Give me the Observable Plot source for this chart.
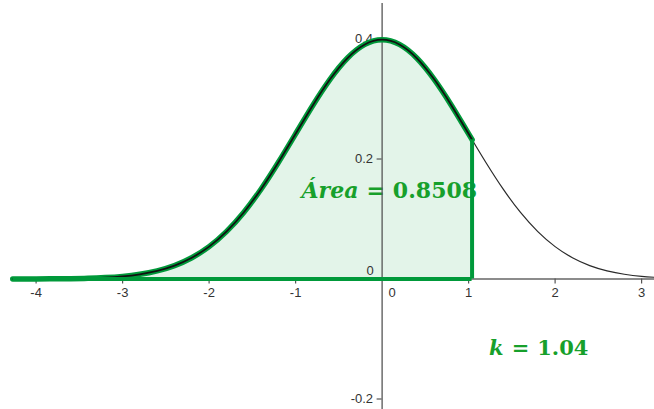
<!DOCTYPE html>
<html>
<head>
<meta charset="utf-8">
<script src="https://cdn.jsdelivr.net/npm/d3@7"></script>
<script src="https://cdn.jsdelivr.net/npm/@observablehq/plot@0.6"></script>
<style>
  html, body { margin: 0; padding: 0; background: #ffffff; }
  #chart svg { display: block; }
</style>
</head>
<body>
<div id="chart"></div>
<script>
// ---- data (standard normal density, read at sample points) ----
const xs = [-4.27, -4.2, -4.0, -3.8, -3.6, -3.4, -3.2, -3.0, -2.8, -2.6, -2.4, -2.2, -2.0,
  -1.8, -1.6, -1.4, -1.2, -1.0, -0.8, -0.6, -0.4, -0.2, 0.0, 0.2, 0.4, 0.6, 0.8, 1.0,
  1.2, 1.4, 1.6, 1.8, 2.0, 2.2, 2.4, 2.6, 2.8, 3.0, 3.2];
const density = [0.0000, 0.0001, 0.0001, 0.0003, 0.0006, 0.0012, 0.0024, 0.0044, 0.0079, 0.0136, 0.0224, 0.0355, 0.0540,
  0.0790, 0.1109, 0.1497, 0.1942, 0.2420, 0.2897, 0.3332, 0.3683, 0.3910, 0.3989, 0.3910, 0.3683, 0.3332, 0.2897, 0.2420,
  0.1942, 0.1497, 0.1109, 0.0790, 0.0540, 0.0355, 0.0224, 0.0136, 0.0079, 0.0044, 0.0024];
const k = 1.04;
const densityAtK = 0.2323;
const area = 0.8508;
const xTickValues = [-4, -3, -2, -1, 1, 2, 3];
const yTickValues = [0.4, 0.2, -0.2];
const areaLabel = ["Área", "=", "0.8508"];
const kLabel = ["k", "=", "1.04"];

// ---- view ----
const W = 654, H = 409;
const xDomain = [-4.4116, 3.149];
const yDomain = [-0.2175, 0.4642];
const green = "#00993a";
const textGreen = "#17a02b";

const points = xs.map((x, i) => ({x, y: density[i]}));
const leftPart = points.filter(p => p.x < k).concat([{x: k, y: densityAtK}]);
const rightPart = [{x: k, y: densityAtK}].concat(points.filter(p => p.x > k));
const xStart = xs[0];

const pxX = (xDomain[1] - xDomain[0]) / W;   // data units per pixel (x)
const pxY = (yDomain[1] - yDomain[0]) / H;   // data units per pixel (y)

const fmt = d => String(d);

const plot = Plot.plot({
  width: W,
  height: H,
  margin: 0,
  style: {background: "#ffffff", overflow: "hidden"},
  x: {domain: xDomain, axis: null},
  y: {domain: yDomain, axis: null},
  marks: [
    // shaded area
    Plot.areaY(leftPart, {x: "x", y: "y", fill: green, fillOpacity: 0.11, curve: "natural"}),
    // tick labels
    Plot.text(xTickValues, {x: d => d, y: 0, text: fmt, dy: 14, fontSize: 13, fill: "#333",
      fontFamily: "Liberation Sans, Arial, sans-serif"}),
    Plot.text([0], {x: 0, y: 0, text: fmt, dx: 10, dy: 14, fontSize: 13, fill: "#333",
      fontFamily: "Liberation Sans, Arial, sans-serif"}),
    Plot.text(yTickValues, {x: 0, y: d => d, text: fmt, dx: -9, textAnchor: "end", fontSize: 13, fill: "#333",
      fontFamily: "Liberation Sans, Arial, sans-serif"}),
    Plot.text([0], {x: 0, y: 0, text: fmt, dx: -12, dy: -8, fontSize: 13, fill: "#333",
      fontFamily: "Liberation Sans, Arial, sans-serif"}),
    // area label
    Plot.text([areaLabel.join(" ")], {x: k, y: 0.135, text: d => d, textAnchor: "end", lineAnchor: "bottom",
      dx: 5, fontSize: 22, fontWeight: "bold", fill: textGreen, fontFamily: "DejaVu Serif, serif"}),
    // k label
    Plot.text([kLabel.join(" ")], {x: k, y: -0.127, text: d => d, textAnchor: "start", lineAnchor: "bottom",
      dx: 17, fontSize: 21, fontWeight: "bold", fill: textGreen, fontFamily: "DejaVu Serif, serif"}),
    // axes
    Plot.ruleX([0], {y1: yDomain[0], y2: yDomain[1] - 3 * pxY, stroke: "#555", strokeWidth: 1.3}),
    Plot.ruleY([0], {x1: xStart, x2: xDomain[1], stroke: "#666", strokeWidth: 1.3}),
    // ticks
    Plot.ruleX(xTickValues, {x: d => d, y1: 0, y2: -5 * pxY, stroke: "#555", strokeWidth: 1.2}),
    Plot.ruleY(yTickValues, {y: d => d, x1: -5 * pxX, x2: 0, stroke: "#555", strokeWidth: 1.2}),
    // curve
    Plot.line(rightPart, {x: "x", y: "y", stroke: "#2a2a2a", strokeWidth: 1.2, curve: "natural"}),
    Plot.line(leftPart, {x: "x", y: "y", stroke: green, strokeWidth: 5.5, curve: "natural"}),
    Plot.line(leftPart, {x: "x", y: "y", stroke: "#111", strokeWidth: 1.8, curve: "natural"}),
    // bounding lines of the region
    Plot.ruleY([0], {x1: xStart, x2: k, stroke: green, strokeWidth: 4}),
    Plot.ruleX([k], {y1: 0, y2: densityAtK, stroke: green, strokeWidth: 4})
  ]
});

// italic variable names inside the labels
function styleLabel(svg, parts) {
  const full = parts.join(" ");
  svg.querySelectorAll("text").forEach(t => {
    if (t.textContent === full) {
      t.textContent = "";
      const ns = "http://www.w3.org/2000/svg";
      const a = document.createElementNS(ns, "tspan");
      a.setAttribute("font-style", "italic");
      a.textContent = parts[0];
      const b = document.createElementNS(ns, "tspan");
      b.setAttribute("dx", "8");
      b.textContent = parts[1];
      const c = document.createElementNS(ns, "tspan");
      c.setAttribute("dx", "8");
      c.textContent = parts[2];
      t.append(a, b, c);
    }
  });
}
styleLabel(plot, areaLabel);
styleLabel(plot, kLabel);

document.getElementById("chart").append(plot);
</script>
</body>
</html>
